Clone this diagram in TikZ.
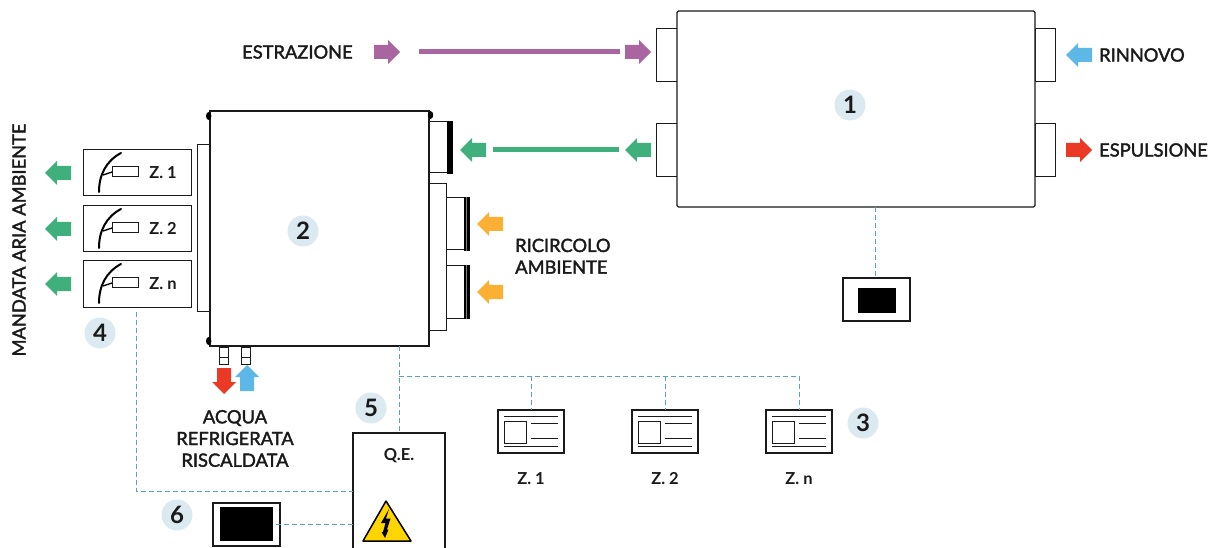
\documentclass[tikz,border=0pt]{standalone}
\usepackage{fontspec}
\setmainfont{Lato}[FakeBold=2]
\newfontfamily\zfont{Lato Bold}
\definecolor{cpurple}{HTML}{A9659F}
\definecolor{cgreen}{HTML}{3FB07C}
\definecolor{cblue}{HTML}{5DB8E8}
\definecolor{cred}{HTML}{EA3A25}
\definecolor{corange}{HTML}{FBB034}
\definecolor{cdash}{HTML}{5A9FC4}
\definecolor{cbub}{HTML}{DBEAF1}
\definecolor{cyell}{HTML}{FFD500}
\definecolor{cink}{HTML}{1A1A1A}
\tikzset{
  box/.style={draw=cink,line width=1pt,fill=white,inner sep=0pt,outer sep=0pt,anchor=north west},
  heavy/.style={box,line width=2pt},
  solidblack/.style={fill=black,inner sep=0pt,outer sep=0pt,anchor=north west},
  bub/.style={circle,fill=cbub,minimum size=31pt,inner sep=0pt,font=\zfont\fontsize{24}{24}\selectfont,text=cink},
  lab/.style={font=\fontsize{18.3}{21.7}\selectfont,text=cink,inner sep=0pt},
  zlab/.style={font=\zfont\fontsize{16.5}{20}\selectfont,text=cink,inner sep=0pt},
  link/.style={draw=cdash,line width=1pt,dash pattern=on 5pt off 3pt},
  flowbar/.style={line width=5pt},
}
% horizontal arrows: tip x, direction, centre y, colour
\newcommand{\arrH}[4]{\fill[#4] (#1,#3) -- ++(#2*12,-12) -- ++(0,5) -- ++(#2*14,0) -- ++(0,14) -- ++(-#2*14,0) -- ++(0,5) -- cycle;}
\newcommand{\arrV}[4]{\fill[#4] (#1,#3) -- ++(-12,#2*12) -- ++(5,0) -- ++(0,#2*14) -- ++(14,0) -- ++(0,-#2*14) -- ++(5,0) -- cycle;}
\newcommand{\zonebox}[3]{%
  \node[box,minimum width=108pt,minimum height=46pt] (#1) at (83,#2) {};
  \draw[line width=2pt,line cap=round,black] (99,#2+42) .. controls (99,#2+25) and (106,#2+11) .. (121,#2+3);
  \draw[line width=1.3pt,black] (103,#2+25) -- (112,#2+22);
  \node[box,minimum width=26pt,minimum height=10pt] at (112,#2+17) {};
  \node[zlab] at (163,#2+22.5) {#3};
  \arrH{45}{1}{#2+23}{cgreen}
}
\newcommand{\ctrl}[3]{%
  \node[box,line width=1.2pt,minimum width=66pt,minimum height=43pt] (#1) at (#2,410) {};
  \draw[line width=1pt,cink] (#2+6,416) -- ++(54,0) (#2+6,446) -- ++(54,0)
     (#2+33,423) -- ++(27,0) (#2+33,438.5) -- ++(27,0);
  \node[box,minimum width=22pt,minimum height=22pt] at (#2+6,421) {};
  \node[zlab] at (#2+33,479) {#3};
}
\begin{document}
\begin{tikzpicture}[x=1pt,y=-1pt]
\useasboundingbox (0,0) rectangle (1216,548);
% unit 1
\node[box,minimum width=21pt,minimum height=53pt] (s1) at (656,29) {};
\node[box,minimum width=21pt,minimum height=53pt] (s2) at (656,124) {};
\node[box,minimum width=20pt,minimum height=53pt] (s3) at (1035,29) {};
\node[box,minimum width=20pt,minimum height=53pt] (s4) at (1035,124) {};
\node[box,line width=1.2pt,rounded corners=1.5pt,minimum width=358pt,minimum height=196pt] (u1) at (677,11) {};
\node[bub] (n1) at (850,105) {1};
% remote of unit 1
\node[box,line width=1.2pt,minimum width=67pt,minimum height=43pt] (r1) at (843,278) {};
\node[solidblack,minimum width=38pt,minimum height=25pt] (r1s) at (858,288) {};
\coordinate (r1t) at (875,278);
\draw[link] (u1.south -| r1t) -- (r1t);
% flows at unit 1
\node[lab,anchor=west] (estr) at (242,52) {ESTRAZIONE};
\arrH{400}{-1}{52}{cpurple}
\coordinate (pa) at (419,52); \coordinate (pb) at (620,52);
\draw[cpurple,flowbar] (pa) -- (pb);
\arrH{651}{-1}{52}{cpurple}
\arrH{625}{1}{150}{cgreen}
\coordinate (ga) at (619,150); \coordinate (gb) at (493,150);
\draw[cgreen,flowbar] (ga) -- (gb);
\arrH{460}{1}{150}{cgreen}
\arrH{1066}{1}{55}{cblue}
\node[lab,anchor=west] (rinn) at (1099,55) {RINNOVO};
\arrH{1092}{-1}{150}{cred}
\node[lab,anchor=west] (espu) at (1099,150) {ESPULSIONE};
% unit 2 attachments
\node[box,minimum width=13pt,minimum height=166pt] (p2l) at (197,145) {};
\node[box,minimum width=21pt,minimum height=51pt] (st) at (429,122) {};
\fill[black] (447,121) rectangle (453,174);
\node[box,minimum width=17pt,minimum height=146pt] (p2r) at (429,184) {};
\node[box,minimum width=20pt,minimum height=52pt] (r2a) at (446,198) {};
\node[box,minimum width=20pt,minimum height=52pt] (r2b) at (446,266) {};
\fill[black] (463.5,197) rectangle (469.5,251);
\fill[black] (463.5,265) rectangle (469.5,319);
\draw[gray,line width=.5pt] (466.5,197) -- (466.5,251) (466.5,265) -- (466.5,319);
\foreach \px in {219,241}{
  \draw[line width=1pt,cink] (\px+.5,347) rectangle (\px+9.5,364);
  \draw[line width=1pt,cink] (\px+.5,357) -- (\px+9.5,357);
}
\node[heavy,minimum width=219pt,minimum height=235pt] (u2) at (210,111) {};
\fill[black] (208.7,116) ellipse (2.7pt and 4pt) (208.7,341) ellipse (2.7pt and 4pt) (430.5,115) ellipse (2.7pt and 4pt);
\node[bub] (n2) at (303,231) {2};
\arrH{477}{1}{224}{corange}
\arrH{477}{1}{292}{corange}
\node[lab,anchor=north west,align=left] (ric) at (515,238.5) {RICIRCOLO\\AMBIENTE};
% water
\arrV{224}{-1}{394}{cred}
\arrV{247}{1}{365}{cblue}
\node[lab,align=center] (acq) at (235,438.5) {ACQUA\\REFRIGERATA\\RISCALDATA};
% zones
\zonebox{z1}{150}{Z. 1}
\zonebox{z2}{206}{Z. 2}
\zonebox{z3}{261}{Z. n}
\node[lab,rotate=90] (mand) at (19,240) {MANDATA ARIA AMBIENTE};
\node[bub] (n4) at (100,333) {4};
% QE
\node[box,line width=1.2pt,minimum width=92pt,minimum height=125pt] (qe) at (353,433) {};
\node[zlab] (qet) at (399,456) {Q.E.};
\draw[black,line width=1.5pt,fill=cyell,line join=round] (386,501) -- (411,541) -- (363,541) -- cycle;
\fill[black] (389,509) -- (381,523) -- (385.5,523) -- (383,532) -- (381.5,532) -- (385,538) -- (388.5,529.5) -- (387,529.5) -- (390.5,518.5) -- (386,518.5) -- cycle;
\node[bub] (n5) at (371,408) {5};
% panel 6
\node[box,line width=1.2pt,minimum width=67pt,minimum height=43pt] (p6) at (213,503) {};
\node[solidblack,minimum width=53pt,minimum height=34pt] (p6s) at (220,507) {};
\node[bub] (n6) at (177,515) {6};
% controllers
\ctrl{c1}{498}{Z. 1}
\ctrl{c2}{632}{Z. 2}
\ctrl{c3}{766}{Z. n}
\node[bub] (n3) at (863,423) {3};
% links
\coordinate (j) at (399,376);
\coordinate (zs) at (136,312);
\coordinate (zc) at (136,491);
\coordinate (p6e) at (276,524);
\draw[link] (u2.south -| qe.north) -- (qe.north);
\draw[link] (j) -- (j -| c3.north) -- (c3.north);
\draw[link] (j -| c1.north) -- (c1.north);
\draw[link] (j -| c2.north) -- (c2.north);
\draw[link] (zs) -- (zc) -- (zc -| qe.west);
\draw[link] (p6e) -- (p6e -| qe.west);
\end{tikzpicture}
\end{document}
